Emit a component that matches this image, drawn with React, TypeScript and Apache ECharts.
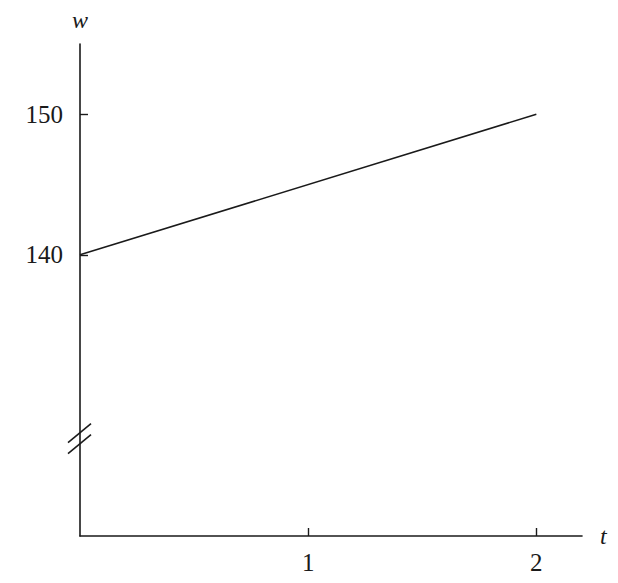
import { useEffect, useRef } from 'react';
import * as echarts from 'echarts';

// 数据
const tValues = [0, 2];
const wValues = [140, 150];
const xTicks = [1, 2];
const yTicks = [140, 150];
const breakAt = 127; // 纵轴断裂位置

const INK = '#1a1a1a';
const FONT = '"Liberation Serif", "DejaVu Serif", serif';

export default function App() {
  const chartRef = useRef<HTMLDivElement>(null);

  useEffect(() => {
    if (!chartRef.current) return;
    const chart = echarts.init(chartRef.current, null, { renderer: 'svg' });

    const option: echarts.EChartsOption = {
      animation: false,
      grid: { left: 72, right: 28, top: 34, bottom: 38 },
      xAxis: {
        type: 'value',
        min: 0,
        max: 2.2,
        name: 't',
        nameLocation: 'end',
        nameGap: 18,
        nameTextStyle: { fontFamily: FONT, fontStyle: 'italic', fontSize: 24, color: INK },
        axisLine: { show: true, lineStyle: { color: INK, width: 1.6 } },
        axisTick: { show: true, inside: true, length: 8, customValues: xTicks, lineStyle: { color: INK, width: 1.4 } },
        axisLabel: { customValues: xTicks, margin: 14, fontFamily: FONT, fontSize: 25, color: INK },
        splitLine: { show: false }
      },
      yAxis: {
        type: 'value',
        min: 120,
        max: 155,
        name: 'w',
        nameLocation: 'end',
        nameGap: 12,
        nameTextStyle: { fontFamily: FONT, fontStyle: 'italic', fontSize: 24, color: INK, align: 'center' },
        axisLine: { show: true, lineStyle: { color: INK, width: 1.6 } },
        axisTick: { show: true, inside: true, length: 8, customValues: yTicks, lineStyle: { color: INK, width: 1.4 } },
        axisLabel: { customValues: yTicks, margin: 17, fontFamily: FONT, fontSize: 25, color: INK },
        splitLine: { show: false }
      },
      series: [
        {
          type: 'line',
          data: tValues.map((t, i) => [t, wValues[i]]),
          symbol: 'none',
          lineStyle: { color: INK, width: 1.6 }
        }
      ]
    };

    chart.setOption(option);

    // 断轴标记
    const [bx, by] = chart.convertToPixel({ gridIndex: 0 }, [0, breakAt]) as number[];
    const slash = (dy: number) => ({
      type: 'line' as const,
      shape: { x1: bx - 12, y1: by + dy + 10, x2: bx + 11, y2: by + dy - 9 },
      style: { stroke: INK, lineWidth: 1.6 }
    });
    chart.setOption({ graphic: [slash(-5), slash(6)] });

    const handleResize = () => chart.resize();
    window.addEventListener('resize', handleResize);
    return () => {
      window.removeEventListener('resize', handleResize);
      chart.dispose();
    };
  }, []);

  return <div ref={chartRef} style={{ width: 602, height: 567 }} />;
}
